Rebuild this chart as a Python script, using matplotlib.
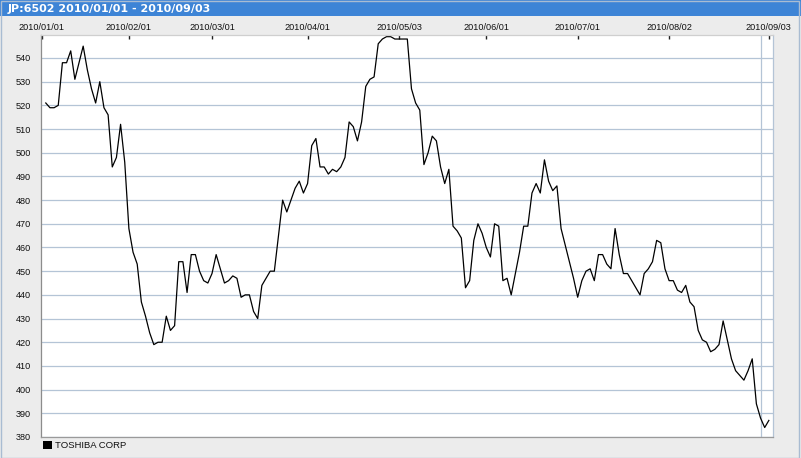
import numpy as np
import pandas as pd
import matplotlib.pyplot as plt
from matplotlib.patches import Rectangle

TITLE = "JP:6502 2010/01/01 - 2010/09/03"
SERIES = "TOSHIBA CORP"

# daily close, one value per weekday from 2010/01/04 (holidays repeat the last close)
close = [
    521, 519, 519, 520, 538, 538, 543, 531, 538, 545,
    535, 527, 521, 530, 519, 516, 494, 498, 512, 496,
    468, 458, 453, 437, 431, 424, 419, 420, 420, 431,
    425, 427, 454, 454, 441, 457, 457, 450, 446, 445,
    449, 457, 451, 445, 446, 448, 447, 439, 440, 440,
    433, 430, 444, 447, 450, 450, 465, 480, 475, 480,
    485, 488, 483, 487, 503, 506, 494, 494, 491, 493,
    492, 494, 498, 513, 511, 505, 513, 528, 531, 532,
    546, 548, 549, 549, 548, 548, 548, 548, 527, 521,
    518, 495, 500, 507, 505, 494, 487, 493, 469, 467,
    464, 443, 446, 463, 470, 466, 460, 456, 470, 469,
    446, 447, 440, 449, 458, 469, 469, 483, 487, 483,
    497, 488, 484, 486, 468, 461, 454, 447, 439, 446,
    450, 451, 446, 457, 457, 453, 451, 468, 457, 449,
    449, 446, 443, 440, 449, 451, 454, 463, 462, 451,
    446, 446, 442, 441, 444, 437, 435, 425, 421, 420,
    416, 417, 419, 429, 421, 413, 408, 406, 404, 408,
    413, 394, 388, 384, 387,
]
dates = pd.bdate_range("2010-01-04", periods=len(close))

tick_dates = ["2010-01-01", "2010-02-01", "2010-03-01", "2010-04-01", "2010-05-03",
              "2010-06-01", "2010-07-01", "2010-08-02", "2010-09-03"]
tick_labels = ["2010/01/01", "2010/02/01", "2010/03/01", "2010/04/01", "2010/05/03",
               "2010/06/01", "2010/07/01", "2010/08/02", "2010/09/03"]
grid_dates = ["2010-01-01", "2010-02-01", "2010-03-01", "2010-04-01", "2010-05-03",
              "2010-06-01", "2010-07-01", "2010-08-02", "2010-09-01"]
y_ticks = list(range(380, 541, 10))

START = "2010-01-01"


def weekday_pos(d):
    """Weekday index counted from the chart start (weekends skipped)."""
    return np.busday_count(START, np.asarray(d, dtype="datetime64[D]"))


W, H = 801, 458
fig = plt.figure(figsize=(W / 100, H / 100), dpi=100)
fig.patch.set_facecolor("#ececec")
plt.rcParams["font.family"] = ["Liberation Sans", "DejaVu Sans"]

ax = fig.add_axes([41 / W, 1 - 437 / H, 732 / W, 402 / H])
ax.set_facecolor("white")

x = weekday_pos(dates.values)
ax.plot(x, close, color="black", lw=0.9)

ax.set_xlim(-0.15, 176)
ax.set_ylim(380, 549.7)

ax.xaxis.tick_top()
ax.set_xticks(weekday_pos(tick_dates))
ax.set_xticklabels(tick_labels, fontsize=6.6, color="#111111")
ax.set_xticks(weekday_pos(grid_dates), minor=True)
ax.tick_params(axis="x", which="major", direction="in", length=3, width=1,
               color="#222222", pad=2)
ax.tick_params(axis="x", which="minor", length=0)
ax.grid(axis="x", which="minor", color="#b4c4d6", lw=0.9)

ax.set_yticks(y_ticks)
ax.set_yticklabels([str(v) for v in y_ticks], fontsize=6.6, color="#111111")
ax.tick_params(axis="y", length=0, pad=7)
ax.grid(axis="y", which="major", color="#b4c4d6", lw=0.9)
ax.set_axisbelow(True)

ax.spines["left"].set_color("#8c8c8c")
ax.spines["bottom"].set_color("#9a9a9a")
ax.spines["top"].set_color("#cfcfcf")
ax.spines["right"].set_color("#b4c4d6")
for s in ax.spines.values():
    s.set_linewidth(0.9)

# title bar
fig.patches.append(Rectangle((0, 1 - 16 / H), 1, 16 / H, transform=fig.transFigure,
                             facecolor="#3d84d6", edgecolor="none", zorder=0))
fig.text(8 / W, 1 - 8.5 / H, TITLE, color="white", fontsize=8, fontweight="bold",
         family="DejaVu Sans", va="center", ha="left")

# outer frame
fig.patches.append(Rectangle((0.5 / W, 0.5 / H), 798 / W, 1 - 1 / H,
                             transform=fig.transFigure, facecolor="none",
                             edgecolor="#a9bcd2", lw=1, zorder=0))

# legend
fig.patches.append(Rectangle((43 / W, 1 - 449 / H), 9 / W, 8 / H,
                             transform=fig.transFigure, facecolor="black",
                             edgecolor="none"))
fig.text(55 / W, 1 - 445 / H, SERIES, fontsize=6.8, color="#111111",
         va="center", ha="left")

fig.savefig("out.png", dpi=100, facecolor=fig.get_facecolor())
